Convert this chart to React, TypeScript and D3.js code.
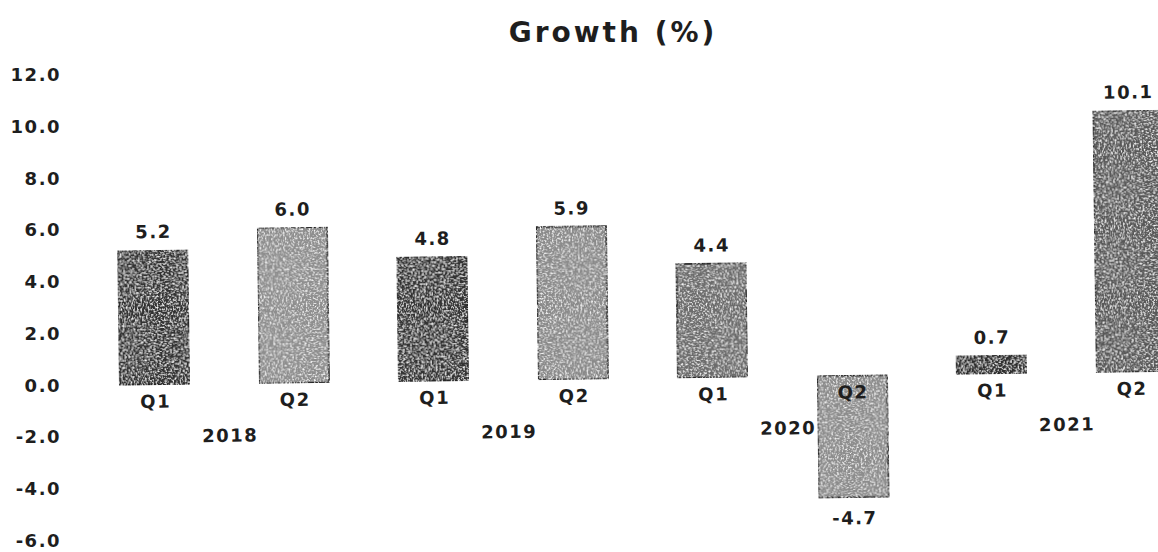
import * as d3 from "d3";
import React from "react";

const quarters = ["Q1", "Q2", "Q1", "Q2", "Q1", "Q2", "Q1", "Q2"];
const years = ["2018", "2019", "2020", "2021"];
const growth = [5.2, 6.0, 4.8, 5.9, 4.4, -4.7, 0.7, 10.1];
const yTicks = [12, 10, 8, 6, 4, 2, 0, -2, -4, -6];
const barShades = ["#303030", "#8e8e8e", "#333333", "#8a8a8a", "#6c6c6c", "#8c8c8c", "#2e2e2e", "#595959"];

const width = 1158;
const height = 552;
const font = "'DejaVu Sans', Verdana, sans-serif";
const ls = 1.5; // scanned text runs a little wide

const App: React.FC = () => {
    const ids = growth.map((_, i) => `b${i}`);
    const x = d3.scaleBand<string>().domain(ids).range([85, 85 + 8 * 139.5])
        .paddingInner(0.5).paddingOuter(0.25);
    const y = d3.scaleLinear().domain([-6, 12]).range([542, 76]);
    const fmt = (v: number) => v.toFixed(1);
    const y0 = y(0);
    const mid = (i: number) => (x(ids[i]) as number) + x.bandwidth() / 2;

    return (
        <svg width={width} height={height} style={{ position: "absolute", left: 0, top: 0, background: "#fff" }}
            fontFamily={font} fontWeight="bold">
            <defs>
                <filter id="grain" x="0" y="0" width="1" height="1">
                    <feTurbulence type="fractalNoise" baseFrequency="0.55" numOctaves={2} seed={3} result="noise" />
                    <feColorMatrix in="noise" type="matrix"
                        values="0 0 0 0 1  0 0 0 0 1  0 0 0 0 1  3 0 0 0 -1.45" result="spots" />
                    <feComposite in="spots" in2="SourceGraphic" operator="in" result="clip" />
                    <feMerge>
                        <feMergeNode in="SourceGraphic" />
                        <feMergeNode in="clip" />
                    </feMerge>
                </filter>
            </defs>

            <text x={613} y={42} textAnchor="middle" fontSize={28} letterSpacing={3} fill="#1e1e1e">Growth (%)</text>

            {yTicks.map((t) => (
                <text key={t} x={61} y={y(t) + 5} textAnchor="end" fontSize={18} letterSpacing={ls} fill="#1e1e1e">{fmt(t)}</text>
            ))}

            <g transform={`translate(0,-1) rotate(-0.75, 85, ${y0})`}>
                {growth.map((v, i) => {
                    const top = y(Math.max(0, v));
                    const h = Math.abs(y(v) - y0);
                    return (
                        <rect key={i} x={x(ids[i])} y={top} width={x.bandwidth()} height={h}
                            fill={barShades[i]} stroke="#222" strokeWidth={1.5} filter="url(#grain)" />
                    );
                })}
                {growth.map((v, i) => {
                    const ly = v >= 0 ? y(v) - 12 : y(v) + 27;
                    return (
                        <text key={`v${i}`} x={mid(i) + ls / 2} y={ly} textAnchor="middle" fontSize={18}
                            letterSpacing={ls} fill="#1e1e1e">{fmt(v)}</text>
                    );
                })}
                {quarters.map((q, i) => (
                    <text key={`q${i}`} x={mid(i) + ls / 2} y={y0 + 23} textAnchor="middle" fontSize={18}
                        letterSpacing={ls} fill="#1e1e1e">{q}</text>
                ))}
                {years.map((yr, k) => (
                    <text key={yr} x={(mid(2 * k) + mid(2 * k + 1)) / 2 + 5} y={y0 + 58} textAnchor="middle"
                        fontSize={18} letterSpacing={ls} fill="#1e1e1e">{yr}</text>
                ))}
            </g>
        </svg>
    );
};

export default App;
